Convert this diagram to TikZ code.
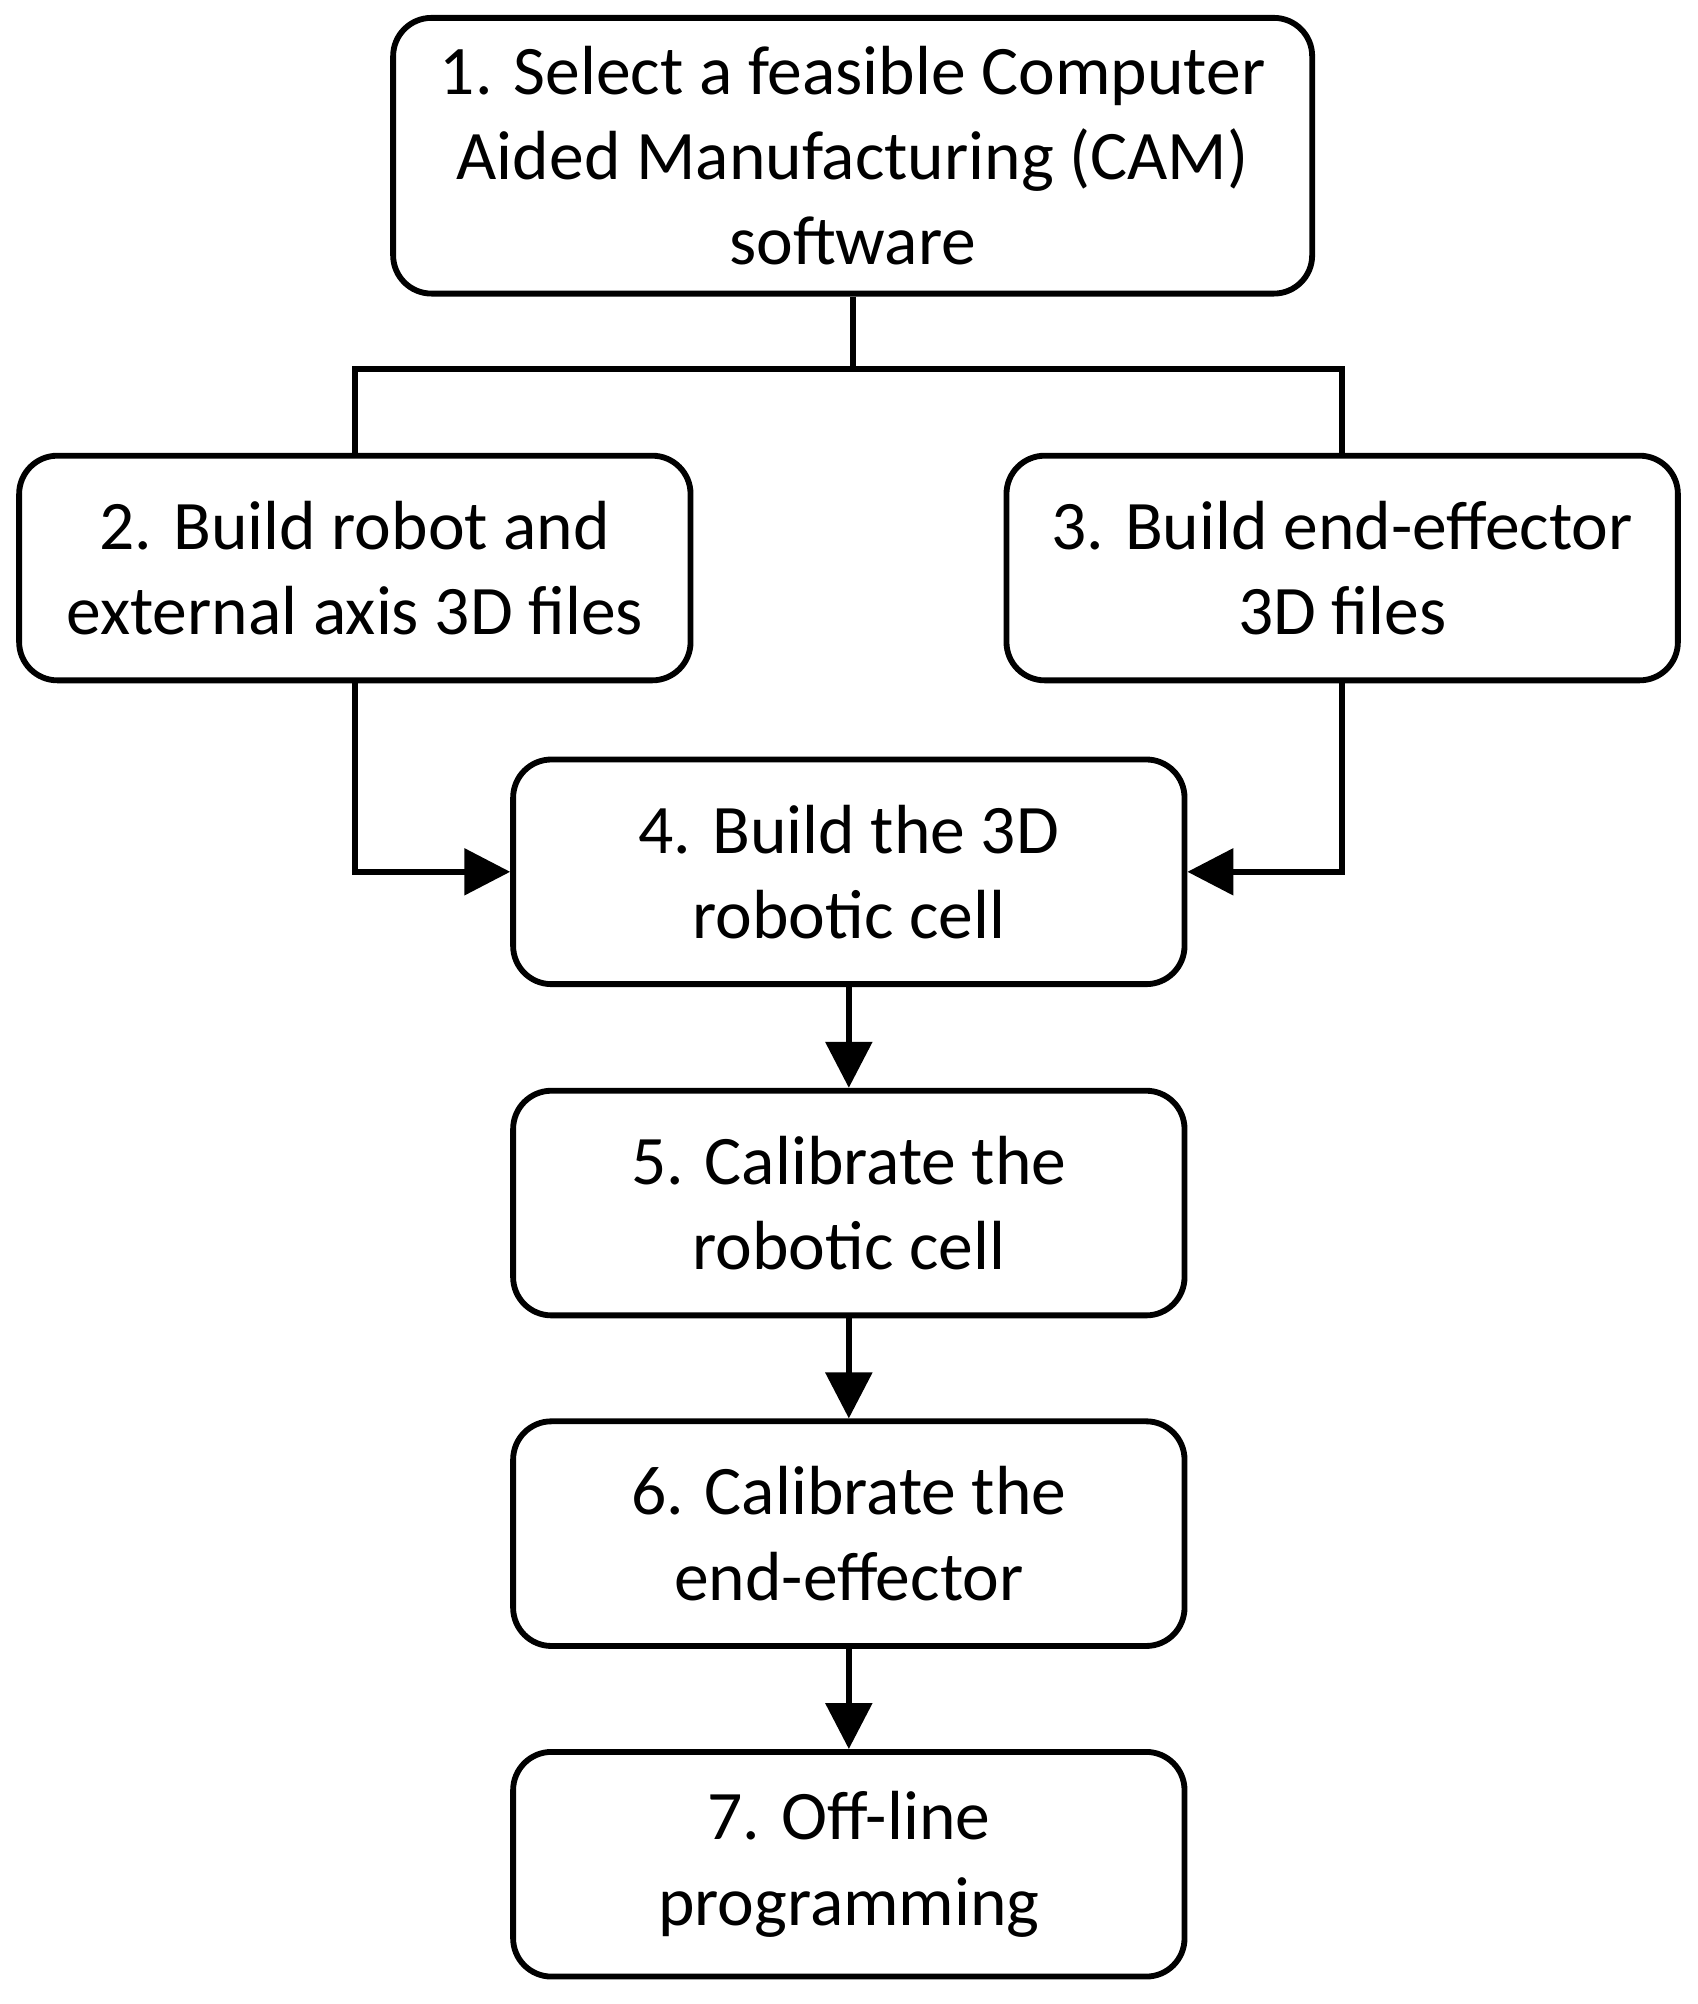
\documentclass[tikz,border=0pt]{standalone}
\usepackage{fontspec}
\setmainfont{Carlito}
\usetikzlibrary{arrows.meta,positioning}
\tikzstyle{block} = [rectangle, draw, line width=1.3pt, rounded corners=0.3cm,
  align=center, font=\fontsize{15.5}{19}\selectfont, inner sep=0pt]
\tikzstyle{line} = [draw, line width=1.3pt, color=black]
\tikzstyle{arrow} = [line, -{Triangle[length=0.36cm,width=0.36cm]}]
\begin{document}
\begin{tikzpicture}
  \useasboundingbox (0,0) rectangle (13.3,-15.7);
  \node [block, minimum width=7.2cm, minimum height=2.16cm] (b1) at (6.68,-1.22) {1. Select a feasible Computer\\Aided Manufacturing (CAM)\\software};
  \node [block, minimum width=5.26cm, minimum height=1.76cm] (b2) at (2.78,-4.45) {2. Build robot and\\external axis 3D files};
  \node [block, minimum width=5.26cm, minimum height=1.76cm] (b3) at (10.515,-4.45) {3. Build end-effector\\3D files};
  \node [block, minimum width=5.26cm, minimum height=1.76cm] (b4) at (6.65,-6.83) {4. Build the 3D\\robotic cell};
  \node [block, minimum width=5.26cm, minimum height=1.76cm] (b5) at (6.65,-9.425) {5. Calibrate the\\robotic cell};
  \node [block, minimum width=5.26cm, minimum height=1.76cm] (b6) at (6.65,-12.015) {6. Calibrate the\\end-effector};
  \node [block, minimum width=5.26cm, minimum height=1.76cm] (b7) at (6.65,-14.605) {7. Off-line\\programming};

  \path [line] (b1.south) -- ++(0,-0.57) coordinate (split) -| (b2.north);
  \path [line] (split) -| (b3.north);
  \path [arrow] (b2.south) |- (b4.west);
  \path [arrow] (b3.south) |- (b4.east);
  \path [arrow] (b4) -- (b5);
  \path [arrow] (b5) -- (b6);
  \path [arrow] (b6) -- (b7);
\end{tikzpicture}
\end{document}
